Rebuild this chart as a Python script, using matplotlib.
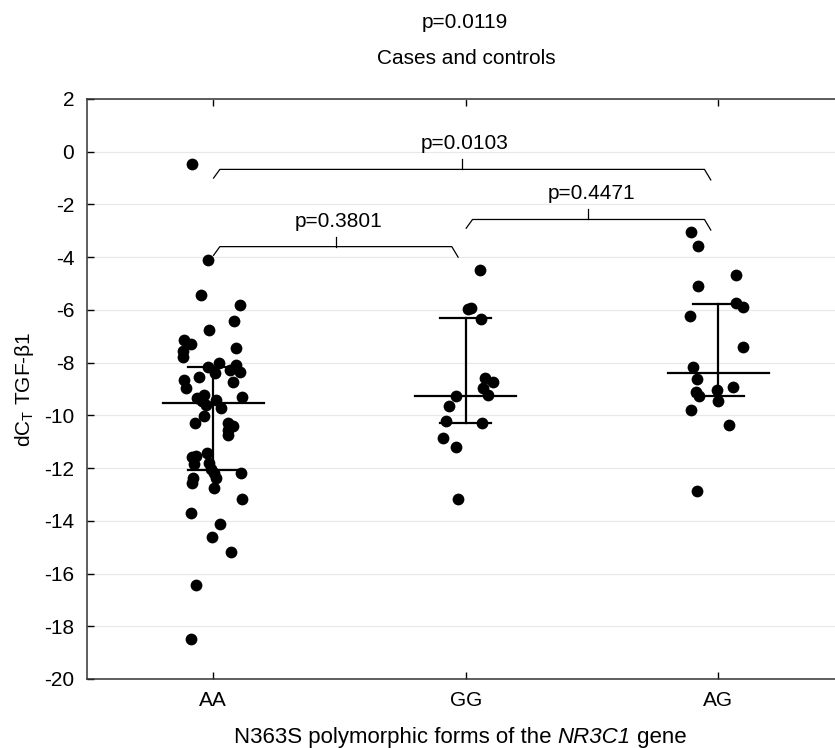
import matplotlib
matplotlib.use("Agg")
import matplotlib.pyplot as plt
import numpy as np

plt.rcParams['font.family'] = ['Liberation Sans', 'DejaVu Sans']
plt.rcParams['mathtext.fontset'] = 'custom'
plt.rcParams['mathtext.rm'] = 'Liberation Sans'
plt.rcParams['mathtext.it'] = 'Liberation Sans:italic'
plt.rcParams['axes.unicode_minus'] = False

# genotype groups
groups = ['AA', 'GG', 'AG']

# dCt values
aa_vals = [-0.47, -4.11, -5.45, -5.80, -6.42, -6.77, -7.14, -7.29, -7.46, -7.55,
           -7.80, -8.00, -8.15, -8.10, -8.28, -8.37, -8.41, -8.53, -8.66, -8.75,
           -8.98, -9.29, -9.35, -9.23, -9.45, -9.42, -9.61, -9.71, -10.03, -10.29,
           -10.28, -10.41, -10.56, -10.76, -11.42, -11.57, -11.53, -11.85, -11.80, -12.05,
           -12.20, -12.18, -12.39, -12.37, -12.56, -12.77, -13.19, -13.72, -14.13, -14.63,
           -15.18, -16.43, -18.48]
aa_jit = [-0.083, -0.020, -0.047, 0.108, 0.084, -0.015, -0.116, -0.087, 0.092, -0.120,
          -0.120, 0.022, -0.021, 0.092, 0.068, 0.105, 0.009, -0.057, -0.116, 0.079,
          -0.106, 0.113, -0.063, -0.037, -0.044, 0.012, -0.027, 0.033, -0.037, -0.073,
          0.059, 0.079, 0.058, 0.058, -0.024, -0.083, -0.066, -0.077, -0.017, -0.007,
          0.002, 0.112, -0.079, 0.012, -0.082, 0.002, 0.116, -0.087, 0.026, -0.006,
          0.071, -0.067, -0.087]

gg_vals = [-4.49, -5.98, -5.94, -6.35, -8.60, -8.75, -8.98, -9.23, -9.25, -9.65,
           -10.20, -10.30, -10.87, -11.19, -13.19]
gg_jit = [0.055, 0.011, 0.022, 0.060, 0.077, 0.110, 0.070, 0.090, -0.039, -0.065,
          -0.077, 0.064, -0.088, -0.038, -0.031]

ag_vals = [-3.06, -3.58, -4.69, -5.09, -5.75, -5.90, -6.23, -7.42, -8.16, -8.63,
           -8.94, -9.04, -9.10, -9.26, -9.47, -9.81, -10.37, -12.87]
ag_jit = [-0.109, -0.079, 0.070, -0.079, 0.070, 0.097, -0.111, 0.099, -0.099, -0.083,
          0.059, -0.004, -0.089, -0.075, 0.000, -0.109, 0.042, -0.085]

# median and quartiles
medians = [-9.55, -9.25, -8.41]
q_low = [-12.07, -10.29, -9.25]
q_high = [-8.15, -6.32, -5.77]

# pairwise comparisons: (left group, right group, bracket level, p label)
pairs = [(0, 2, -0.67, 'p=0.0103'),
         (0, 1, -3.60, 'p=0.3801'),
         (1, 2, -2.57, 'p=0.4471')]

fig = plt.figure(figsize=(8.35, 7.48), dpi=100)
ax = fig.add_axes([86.7 / 835, 1 - 679 / 748, 758 / 835, 580 / 748])

for i, (vals, jit) in enumerate([(aa_vals, aa_jit), (gg_vals, gg_jit), (ag_vals, ag_jit)]):
    xs = i + np.array(jit)
    ax.scatter(xs, vals, s=72, color='black', zorder=3, linewidths=0)
    ax.plot([i - 0.2, i + 0.2], [medians[i], medians[i]], color='black', lw=1.6, zorder=4)
    ax.plot([i - 0.1, i + 0.1], [q_low[i], q_low[i]], color='black', lw=1.6, zorder=4)
    ax.plot([i - 0.1, i + 0.1], [q_high[i], q_high[i]], color='black', lw=1.6, zorder=4)
    ax.plot([i, i], [q_low[i], q_high[i]], color='black', lw=1.6, zorder=4)

# brackets with p values
for a, b, lev, lab in pairs:
    xl, xr = a + 0.002, b - 0.03
    bx = [xl, xl + 0.025, xr - 0.025, xr]
    by = [lev - 0.33, lev, lev, lev - 0.4]
    ax.plot(bx, by, color='black', lw=0.9, zorder=2)
    xm = (xl + xr) / 2
    ax.plot([xm, xm], [lev, lev + 0.38], color='black', lw=0.9, zorder=2)
    ax.text(xm + 0.01, lev + 0.38 + 0.38, lab, ha='center', va='baseline', fontsize=15)

ax.set_xlim(-0.5, 2.5)
ax.set_ylim(-20, 2)
ax.set_yticks(range(-20, 3, 2))
ax.set_xticks(range(len(groups)))
ax.set_xticklabels(groups)
ax.tick_params(axis='both', direction='in', labelsize=15, length=5, width=1)
ax.tick_params(axis='x', top=True, pad=9)
ax.tick_params(axis='y', pad=9)
ax.grid(axis='y', color='#e8e8e8', lw=0.9)
ax.set_axisbelow(True)
for sp in ax.spines.values():
    sp.set_color('#333333')
    sp.set_linewidth(1.1)

ax.set_ylabel(r'dC$_\mathrm{T}$ TGF-β1', fontsize=15, labelpad=6)

# x label with italic gene name, built from three pieces
t1 = fig.text(234 / 835, 1 - 743 / 748, 'N363S polymorphic forms of the ',
              ha='left', va='baseline', fontsize=16)
t2 = ax.annotate('NR3C1', xy=(1, 0), xycoords=t1, ha='left', va='bottom',
                 fontsize=16, fontstyle='italic', annotation_clip=False)
ax.annotate(' gene', xy=(1, 0), xycoords=t2, ha='left', va='bottom',
            fontsize=16, annotation_clip=False)

fig.text(465 / 835, 1 - 23 / 748, 'p=0.0119', ha='center', va='center', fontsize=15)
fig.text(466 / 835, 1 - 59 / 748, 'Cases and controls', ha='center', va='center', fontsize=15)

fig.savefig('out.png', dpi=100)
